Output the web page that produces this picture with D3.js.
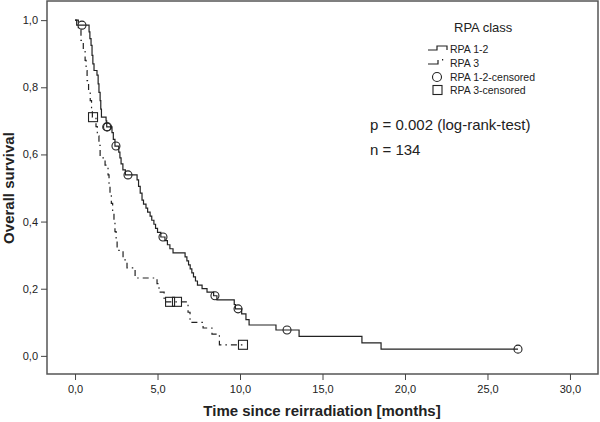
<!DOCTYPE html>
<html>
<head>
<meta charset="utf-8">
<script src="https://cdn.jsdelivr.net/npm/d3@7"></script>
<style>
  body { margin: 0; background: #fff; }
  svg { display: block; font-family: "Liberation Sans", Arial, sans-serif; }
  .tick text { fill: #222; }
  .tick line { stroke: #444; }
</style>
</head>
<body>
<div id="chart"></div>
<script>
// Kaplan-Meier steps: [months, survival]
const rpa12 = [
  [0, 1.0], [0.1, 0.985], [0.85, 0.965], [0.9, 0.945], [0.97, 0.925], [1.03, 0.895],
  [1.08, 0.87], [1.15, 0.85], [1.33, 0.836], [1.4, 0.81], [1.45, 0.785], [1.52, 0.76],
  [1.56, 0.735], [1.6, 0.711], [1.88, 0.70], [1.92, 0.682], [2.24, 0.665], [2.32, 0.645],
  [2.42, 0.625], [2.65, 0.607], [2.72, 0.59], [2.79, 0.572], [2.9, 0.554], [3.05, 0.539],
  [3.76, 0.524], [3.85, 0.505], [3.95, 0.485], [4.06, 0.464], [4.15, 0.452], [4.3, 0.44],
  [4.4, 0.428], [4.55, 0.416], [4.65, 0.404], [4.78, 0.392], [4.88, 0.38], [5.0, 0.368],
  [5.2, 0.354], [5.45, 0.343], [5.6, 0.331], [5.75, 0.319], [5.94, 0.307], [6.67, 0.295],
  [6.78, 0.283], [6.88, 0.271], [6.98, 0.259], [7.08, 0.247], [7.18, 0.235], [7.3, 0.223],
  [7.42, 0.211], [7.7, 0.2], [8.0, 0.19], [8.4, 0.179], [8.6, 0.167], [9.65, 0.153],
  [9.72, 0.14], [10.1, 0.125], [10.36, 0.108], [10.55, 0.092], [12.18, 0.077],
  [13.58, 0.058], [17.39, 0.039], [18.55, 0.02], [26.85, 0.02]
];
const rpa3 = [
  [0, 1.0], [0.2, 0.97], [0.36, 0.94], [0.5, 0.91], [0.61, 0.88], [0.67, 0.85], [0.73, 0.82],
  [0.82, 0.79], [0.92, 0.76], [1.0, 0.735], [1.05, 0.711], [1.27, 0.683], [1.35, 0.655],
  [1.45, 0.627], [1.52, 0.59], [1.82, 0.568], [2.0, 0.539], [2.06, 0.51], [2.12, 0.482],
  [2.2, 0.454], [2.28, 0.426], [2.36, 0.398], [2.42, 0.37], [2.49, 0.342], [2.55, 0.314],
  [2.91, 0.286], [3.15, 0.262], [3.64, 0.232], [4.97, 0.215], [5.09, 0.19], [5.4, 0.161],
  [6.85, 0.13], [6.97, 0.10], [7.76, 0.083], [8.3, 0.065], [8.75, 0.033], [10.18, 0.033]
];
const rpa12Censored = [[0.42, 0.985], [1.92, 0.682], [1.97, 0.682], [2.48, 0.625], [3.21, 0.539],
  [5.33, 0.354], [8.48, 0.179], [9.88, 0.14], [12.85, 0.077], [26.85, 0.02]];
const rpa3Censored = [[1.09, 0.711], [5.76, 0.161], [6.18, 0.161], [10.18, 0.033]];

const xTicks = [0, 5, 10, 15, 20, 25, 30];
const yTicks = [0, 0.2, 0.4, 0.6, 0.8, 1.0];
const legendLabels = ["RPA 1-2", "RPA 3", "RPA 1-2-censored", "RPA 3-censored"];

const width = 600, height = 422;
const plot = { left: 47, top: 1, right: 598, bottom: 374 };
const ink = "#222";

const svg = d3.select("#chart").append("svg")
  .attr("width", width).attr("height", height);

const x = d3.scaleLinear().domain([-1.7, 31.7]).range([plot.left, plot.right]);
const y = d3.scaleLinear().domain([-0.054, 1.057]).range([plot.bottom, plot.top]);
const comma = d => d3.format(".1f")(d).replace(".", ",");

// frame
svg.append("rect")
  .attr("x", plot.left).attr("y", plot.top)
  .attr("width", plot.right - plot.left).attr("height", plot.bottom - plot.top)
  .attr("fill", "none").attr("stroke", "#555").attr("stroke-width", 1.5);

svg.append("g")
  .attr("transform", `translate(0, ${plot.bottom})`)
  .call(d3.axisBottom(x).tickValues(xTicks).tickFormat(comma).tickSize(6).tickPadding(5))
  .call(g => g.select(".domain").remove())
  .selectAll("text").attr("font-size", 11);

svg.append("g")
  .attr("transform", `translate(${plot.left}, 0)`)
  .call(d3.axisLeft(y).tickValues(yTicks).tickFormat(comma).tickSize(6).tickPadding(3))
  .call(g => g.select(".domain").remove())
  .selectAll("text").attr("font-size", 11);

// axis titles
svg.append("text")
  .attr("x", 322).attr("y", 416)
  .attr("text-anchor", "middle").attr("font-size", 15).attr("font-weight", "bold")
  .attr("fill", ink).text("Time since reirradiation [months]");

svg.append("text")
  .attr("transform", "translate(14, 188) rotate(-90)")
  .attr("text-anchor", "middle").attr("font-size", 15).attr("font-weight", "bold")
  .attr("fill", ink).text("Overall survival");

// curves
const line = d3.line().x(d => x(d[0])).y(d => y(d[1])).curve(d3.curveStepAfter);

svg.append("path").datum(rpa12)
  .attr("d", line).attr("fill", "none")
  .attr("stroke", ink).attr("stroke-width", 1.2);

svg.append("path").datum(rpa3)
  .attr("d", line).attr("fill", "none")
  .attr("stroke", ink).attr("stroke-width", 1.2)
  .attr("stroke-dasharray", "6,4,1.5,4");

svg.selectAll(".cens12").data(rpa12Censored).enter().append("circle")
  .attr("class", "cens12")
  .attr("cx", d => x(d[0])).attr("cy", d => y(d[1])).attr("r", 4)
  .attr("fill", "none").attr("stroke", ink).attr("stroke-width", 1.1);

svg.selectAll(".cens3").data(rpa3Censored).enter().append("rect")
  .attr("class", "cens3")
  .attr("x", d => x(d[0]) - 4.5).attr("y", d => y(d[1]) - 4.5)
  .attr("width", 9).attr("height", 9)
  .attr("fill", "none").attr("stroke", ink).attr("stroke-width", 1.1);

// legend
const lg = svg.append("g");
lg.append("text").attr("x", 454).attr("y", 32)
  .attr("font-size", 13).attr("fill", ink).text("RPA class");

const rowY = [49, 63, 77, 90];
lg.selectAll(".lab").data(legendLabels).enter().append("text")
  .attr("class", "lab")
  .attr("x", 450).attr("y", (d, i) => rowY[i] + 4)
  .attr("font-size", 10.5).attr("fill", ink).text(d => d);

lg.append("path")
  .attr("d", `M428,${rowY[0] + 1}H437V${rowY[0] - 3}H447V${rowY[0] + 1}`)
  .attr("fill", "none").attr("stroke", ink).attr("stroke-width", 1.2);
lg.append("path")
  .attr("d", `M428,${rowY[1] + 1}H438V${rowY[1] - 3}`)
  .attr("fill", "none").attr("stroke", ink).attr("stroke-width", 1.2);
lg.append("rect").attr("x", 442).attr("y", rowY[1] - 4).attr("width", 1.2).attr("height", 1.5)
  .attr("fill", ink);
lg.append("circle").attr("cx", 437).attr("cy", rowY[2]).attr("r", 4.5)
  .attr("fill", "none").attr("stroke", ink).attr("stroke-width", 1.1);
lg.append("rect").attr("x", 433).attr("y", rowY[3] - 4.5).attr("width", 9).attr("height", 9)
  .attr("fill", "none").attr("stroke", ink).attr("stroke-width", 1.1);

// test annotation
svg.append("text").attr("x", 370).attr("y", 130)
  .attr("font-size", 15).attr("fill", ink).text("p = 0.002 (log-rank-test)");
svg.append("text").attr("x", 370).attr("y", 155)
  .attr("font-size", 15).attr("fill", ink).text("n = 134");
</script>
</body>
</html>
